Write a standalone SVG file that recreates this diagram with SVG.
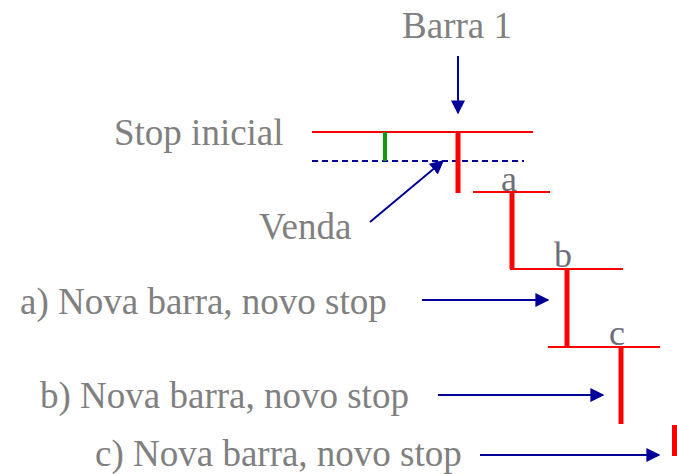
<svg xmlns="http://www.w3.org/2000/svg" width="677" height="474" viewBox="0 0 677 474">
<style>
text{font-family:"Liberation Serif","Times New Roman",serif;fill:#808080;font-size:37px}
.lbl{font-size:36px;fill:#6e6e7a;text-anchor:middle}
.red{stroke:#ff0000;stroke-width:2;fill:none}
.bar{stroke:#ff0000;stroke-width:5;fill:none}
.blue{stroke:#000099;stroke-width:2;fill:none}
</style>
<defs>
<marker id="ahb" viewBox="0 0 10 10" refX="9" refY="5" markerWidth="7" markerHeight="7" orient="auto">
<path d="M0,0 L10,5 L0,10 Z" fill="#000099"/>
</marker>
</defs>
<rect width="677" height="474" fill="#ffffff"/>
<g id="chart">
<line class="red" x1="312" y1="132" x2="533" y2="132"/>
<line x1="312" y1="161" x2="524" y2="161" stroke="#000099" stroke-width="2" stroke-dasharray="6 4"/>
<line x1="385" y1="132" x2="385" y2="161" stroke="#119911" stroke-width="4"/>
<line class="bar" x1="458" y1="132" x2="458" y2="193"/>
<line class="red" x1="473" y1="192" x2="550" y2="192"/>
<line class="bar" x1="512" y1="192" x2="512" y2="269"/>
<line class="red" x1="510" y1="269" x2="623" y2="269"/>
<line class="bar" x1="567" y1="269" x2="567" y2="347"/>
<line class="red" x1="548" y1="347" x2="660" y2="347"/>
<line class="bar" x1="621" y1="347" x2="621" y2="424"/>
<line class="bar" x1="674.5" y1="425" x2="674.5" y2="456"/>
</g>
<g id="labels">
<text x="457" y="38" text-anchor="middle" font-size="36">Barra 1</text>
<text x="114" y="145">Stop inicial</text>
<text x="259" y="239" font-size="35">Venda</text>
<text x="20" y="314">a) Nova barra, novo stop</text>
<text x="40" y="408">b) Nova barra, novo stop</text>
<text x="95" y="466">c) Nova barra, novo stop</text>
<text class="lbl" x="509" y="191">a</text>
<text class="lbl" x="563" y="267">b</text>
<text class="lbl" x="617" y="345">c</text>
</g>
<g id="connectors">
<line class="blue" x1="458" y1="56" x2="458" y2="113" marker-end="url(#ahb)"/>
<line class="blue" x1="370" y1="222" x2="443" y2="161" marker-end="url(#ahb)"/>
<line class="blue" x1="422" y1="300" x2="548" y2="300" marker-end="url(#ahb)"/>
<line class="blue" x1="438" y1="395" x2="603" y2="395" marker-end="url(#ahb)"/>
<line class="blue" x1="480" y1="455" x2="659" y2="455" marker-end="url(#ahb)"/>
</g>
</svg>
